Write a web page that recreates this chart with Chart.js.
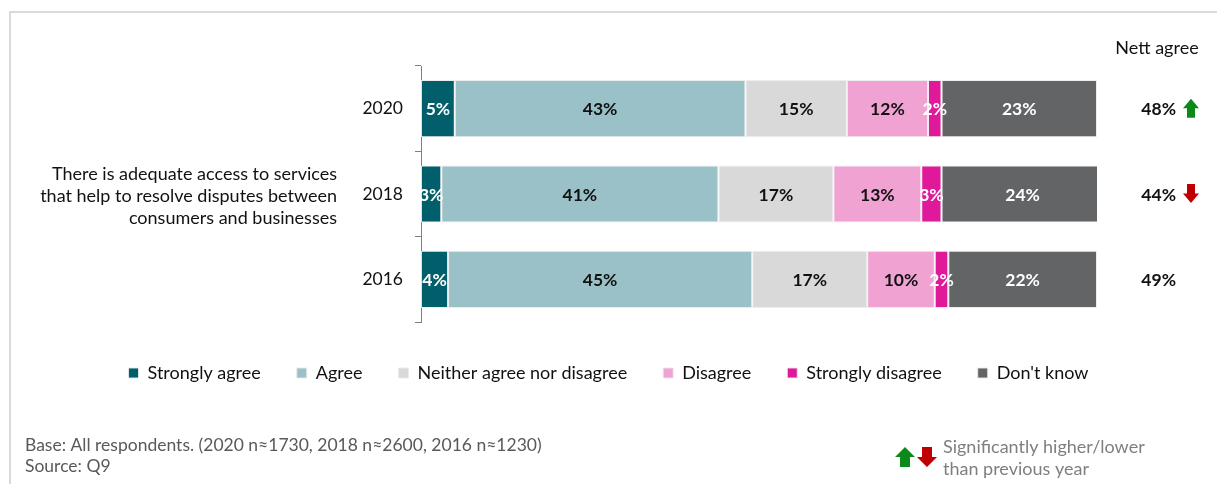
<!DOCTYPE html>
<html>
<head>
<meta charset="utf-8">
<script src="https://cdn.jsdelivr.net/npm/chart.js@4/dist/chart.umd.min.js"></script>
<style>
  html, body { margin: 0; padding: 0; background: #fff; }
  #wrap { position: relative; width: 1217px; height: 484px; }
  canvas { display: block; }
</style>
</head>
<body>
<div id="wrap"><canvas id="chart" width="1217" height="484"></canvas></div>
<script>
// Survey years (one bar each)
const years = ['2020', '2018', '2016'];

// Share of respondents per answer, in percent
const stronglyAgree    = [5, 3, 4];
const agree            = [43, 41, 45];
const neither          = [15, 17, 17];
const disagree         = [12, 13, 10];
const stronglyDisagree = [2, 3, 2];
const dontKnow         = [23, 24, 22];

// Nett agree column and significance vs previous wave
const nettAgree  = [48, 44, 49];
const nettChange = ['up', 'down', null];

const seriesNames = ['Strongly agree', 'Agree', 'Neither agree nor disagree',
                     'Disagree', 'Strongly disagree', "Don't know"];
const statementLines = ['There is adequate access to services',
                        'that help to resolve disputes between',
                        'consumers and businesses'];
const baseNote   = 'Base: All respondents. (2020 n\u22481730, 2018 n\u22482600, 2016 n\u22481230)';
const sourceNote = 'Source: Q9';
const sigNote    = ['Significantly higher/lower', 'than previous year'];

const FONT = 'Lato, "Open Sans", sans-serif';
const colors = ['#005F6B', '#9BC1C8', '#D9D9D9', '#F0A3D3', '#E0199A', '#636466'];
const labelColors = ['#fff', '#111', '#111', '#111', '#fff', '#fff'];
const seriesData = [stronglyAgree, agree, neither, disagree, stronglyDisagree, dontKnow];

const datasets = seriesNames.map((name, i) => ({
  label: name,
  data: seriesData[i],
  backgroundColor: colors[i],
  borderColor: 'rgba(235,235,235,0.9)',
  borderWidth: 1,
  borderSkipped: false,
  labelColor: labelColors[i],
  yAxisID: 'y',
  xAxisID: 'x'
}));

function drawArrow(ctx, cx, top, w, h, dir, color) {
  // block arrow: triangular head plus rectangular shaft
  const headH = h * 0.5, shaftW = w * 0.5;
  ctx.save();
  ctx.fillStyle = color;
  ctx.beginPath();
  if (dir === 'up') {
    ctx.moveTo(cx, top);
    ctx.lineTo(cx + w / 2, top + headH);
    ctx.lineTo(cx + shaftW / 2, top + headH);
    ctx.lineTo(cx + shaftW / 2, top + h);
    ctx.lineTo(cx - shaftW / 2, top + h);
    ctx.lineTo(cx - shaftW / 2, top + headH);
    ctx.lineTo(cx - w / 2, top + headH);
  } else {
    ctx.moveTo(cx - shaftW / 2, top);
    ctx.lineTo(cx + shaftW / 2, top);
    ctx.lineTo(cx + shaftW / 2, top + h - headH);
    ctx.lineTo(cx + w / 2, top + h - headH);
    ctx.lineTo(cx, top + h);
    ctx.lineTo(cx - w / 2, top + h - headH);
    ctx.lineTo(cx - shaftW / 2, top + h - headH);
  }
  ctx.closePath();
  ctx.fill();
  ctx.restore();
}

const ARROW_COLORS = { up: '#0B8A1A', down: '#C00000' };

// Percent labels centred in each segment
const valueLabels = {
  id: 'valueLabels',
  afterDatasetsDraw(chart) {
    const ctx = chart.ctx;
    ctx.save();
    ctx.font = 'bold 17.5px ' + FONT;
    ctx.textAlign = 'center';
    ctx.textBaseline = 'middle';
    chart.data.datasets.forEach((ds, i) => {
      chart.getDatasetMeta(i).data.forEach((bar, j) => {
        const p = bar.getProps(['x', 'y', 'base'], true);
        ctx.fillStyle = ds.labelColor;
        ctx.fillText(ds.data[j] + '%', (p.x + p.base) / 2, p.y + 1);
      });
    });
    ctx.restore();
  }
};

// Frame, statement text, nett agree column and footnotes
const annotations = {
  id: 'annotations',
  beforeDraw(chart) {
    const ctx = chart.ctx;
    ctx.save();
    ctx.fillStyle = '#fff';
    ctx.fillRect(0, 0, chart.width, chart.height);
    ctx.strokeStyle = '#D9D9D9';
    ctx.lineWidth = 2;
    ctx.beginPath();
    ctx.moveTo(10, chart.height);
    ctx.lineTo(10, 12);
    ctx.lineTo(chart.width, 12);
    ctx.stroke();
    ctx.restore();
  },
  afterDraw(chart) {
    const ctx = chart.ctx;
    const ys = chart.scales.y;
    const area = chart.chartArea;
    ctx.save();

    // statement beside the year labels
    ctx.font = '18px ' + FONT;
    ctx.fillStyle = '#111';
    ctx.textAlign = 'right';
    ctx.textBaseline = 'middle';
    const midY = ys.getPixelForValue(1);
    statementLines.forEach((t, k) => ctx.fillText(t, 337, midY + 2 + (k - 1) * 22));

    // nett agree header and values
    ctx.textAlign = 'center';
    ctx.fillText('Nett agree', 1157, area.top - 18);
    ctx.font = 'bold 17.5px ' + FONT;
    nettAgree.forEach((v, j) => {
      const y = ys.getPixelForValue(j);
      ctx.textAlign = 'right';
      ctx.fillStyle = '#111';
      ctx.fillText(v + '%', 1176, y + 1);
      if (nettChange[j]) drawArrow(ctx, 1191, y - 10, 16, 19, nettChange[j], ARROW_COLORS[nettChange[j]]);
    });

    // footnotes
    ctx.textAlign = 'left';
    ctx.font = '17.5px ' + FONT;
    ctx.fillStyle = '#595959';
    ctx.fillText(baseNote, 25, 445);
    ctx.fillText(sourceNote, 25, 466);
    ctx.font = '18px ' + FONT;
    ctx.fillStyle = '#7F7F7F';
    ctx.fillText(sigNote[0], 943, 447);
    ctx.fillText(sigNote[1], 943, 469);
    drawArrow(ctx, 905, 447, 20, 20, 'up', ARROW_COLORS.up);
    drawArrow(ctx, 927, 447, 20, 20, 'down', ARROW_COLORS.down);
    ctx.restore();
  }
};

new Chart(document.getElementById('chart'), {
  type: 'bar',
  data: { labels: years, datasets },
  options: {
    indexAxis: 'y',
    responsive: false,
    animation: false,
    devicePixelRatio: 1,
    layout: { padding: { top: 66, bottom: 92, left: 0, right: 0 } },
    datasets: { bar: { categoryPercentage: 1, barPercentage: 0.67 } },
    scales: {
      x: {
        stacked: true,
        min: 0,
        max: 100,
        display: true,
        grid: { display: false },
        border: { display: false },
        ticks: { display: false },
        afterFit(s) { s.height = 6; }
      },
      y: {
        stacked: true,
        offset: true,
        grid: {
          offset: true,
          drawOnChartArea: false,
          drawTicks: true,
          tickLength: 6,
          color: '#7F7F7F'
        },
        border: { display: true, color: '#7F7F7F', width: 1 },
        ticks: { color: '#111', font: { family: FONT, size: 17.5 }, padding: 12 },
        afterFit(s) { s.width = 421; }
      },
      spacer: {
        type: 'linear',
        position: 'right',
        display: true,
        grid: { display: false },
        border: { display: false },
        ticks: { display: false },
        afterFit(s) { s.width = 120; }
      }
    },
    plugins: {
      legend: {
        position: 'bottom',
        labels: {
          boxWidth: 10,
          boxHeight: 10,
          padding: 36,
          color: '#111',
          font: { family: FONT, size: 18 }
        }
      },
      tooltip: { enabled: false }
    }
  },
  plugins: [valueLabels, annotations]
});
</script>
</body>
</html>
